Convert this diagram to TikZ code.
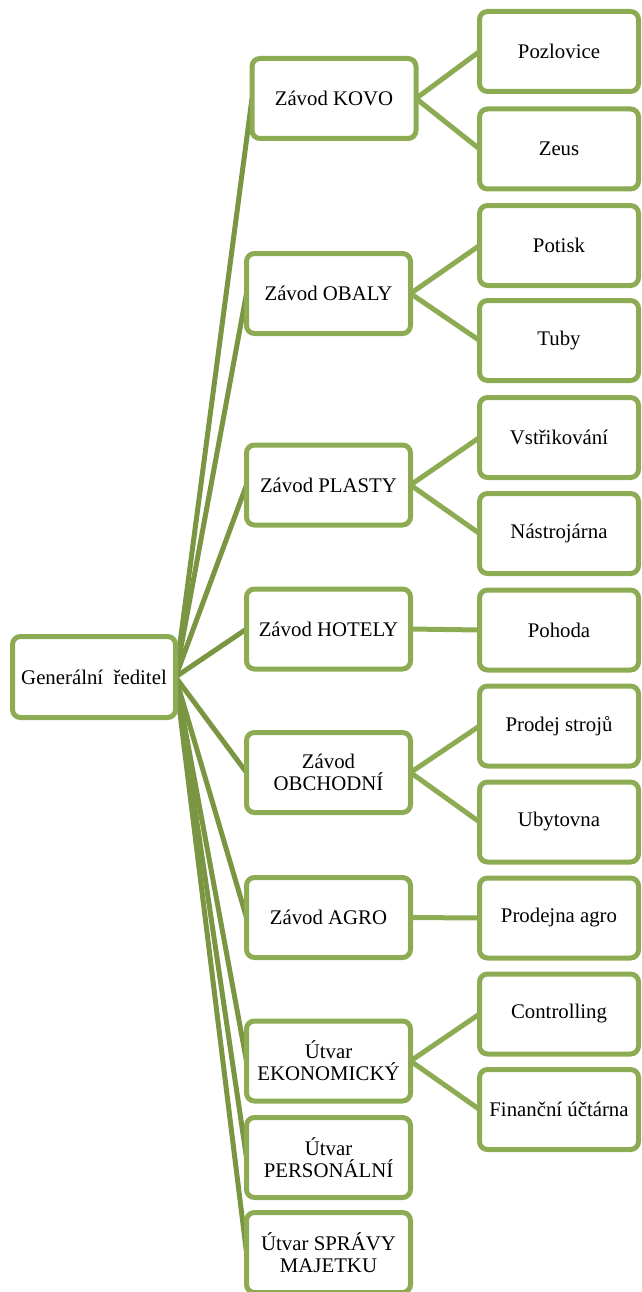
\documentclass[tikz,border=0pt]{standalone}
\usepackage{fontspec}
\setmainfont{Liberation Serif}
\usetikzlibrary{backgrounds}
\definecolor{boxline}{RGB}{141,171,82}
\definecolor{rootlink}{RGB}{122,150,66}
\begin{document}
\begin{tikzpicture}[x=1pt,y=-1pt,
  box/.style={draw=boxline, line width=5pt, fill=white, rounded corners=8pt,
    align=center, font=\fontsize{20.8}{22}\selectfont, inner sep=0pt, outer sep=0pt},
  rootbox/.style={box, minimum width=163pt, minimum height=81pt},
  unitbox/.style={box, minimum width=164pt, minimum height=80pt},
  subbox/.style={box, minimum width=159pt, minimum height=80pt},
  mainlink/.style={draw=rootlink, line width=5pt},
  sublink/.style={draw=boxline, line width=5pt}]
\useasboundingbox (0,0) rectangle (641,1292);

% top of the hierarchy
\node[rootbox] (gr) at (94,677) {Generální\ \ ředitel};

% plants and departments
\node[unitbox] (kovo)   at (334,98.5)   {Závod KOVO};
\node[unitbox] (obaly)  at (328.5,293.5) {Závod OBALY};
\node[unitbox] (plasty) at (328.5,485)  {Závod PLASTY};
\node[unitbox] (hotely) at (328.5,629)  {Závod HOTELY};
\node[unitbox] (obch)   at (328.5,772.5) {Závod\\OBCHODNÍ};
\node[unitbox] (agro)   at (328.5,917.5) {Závod AGRO};
\node[unitbox] (ekon)   at (328.5,1061) {Útvar\\EKONOMICKÝ};
\node[unitbox] (pers)   at (328.5,1157.5) {Útvar\\PERSONÁLNÍ};
\node[unitbox] (sprav)  at (328.5,1252.5) {Útvar SPRÁVY\\MAJETKU};

% sub-units
\node[subbox] (pozl)  at (559,51.5)   {Pozlovice};
\node[subbox] (zeus)  at (559,149)    {Zeus};
\node[subbox] (pot)   at (559,245.5)  {Potisk};
\node[subbox] (tuby)  at (559,340.5)  {Tuby};
\node[subbox] (vstr)  at (559,437.5)  {Vstřikování};
\node[subbox] (nast)  at (559,533.5)  {Nástrojárna};
\node[subbox] (poh)   at (559,630)    {Pohoda};
\node[subbox] (prod)  at (559,726)    {Prodej strojů};
\node[subbox] (ubyt)  at (559,822)    {Ubytovna};
\node[subbox] (pagro) at (559,918)    {Prodejna agro};
\node[subbox] (contr) at (559,1014)   {Controlling};
\node[subbox] (fin)   at (559,1109.5) {Finanční účtárna};

\begin{scope}[on background layer]
  \foreach \u in {kovo,obaly,plasty,hotely,obch,agro,ekon,pers,sprav}
    \draw[mainlink] (gr.east) -- (\u.west);
  \draw[sublink] (kovo.east) -- (pozl.west);
  \draw[sublink] (kovo.east) -- (zeus.west);
  \draw[sublink] (obaly.east) -- (pot.west);
  \draw[sublink] (obaly.east) -- (tuby.west);
  \draw[sublink] (plasty.east) -- (vstr.west);
  \draw[sublink] (plasty.east) -- (nast.west);
  \draw[sublink] (hotely.east) -- (poh.west);
  \draw[sublink] (obch.east) -- (prod.west);
  \draw[sublink] (obch.east) -- (ubyt.west);
  \draw[sublink] (agro.east) -- (pagro.west);
  \draw[sublink] (ekon.east) -- (contr.west);
  \draw[sublink] (ekon.east) -- (fin.west);
\end{scope}
\end{tikzpicture}
\end{document}
